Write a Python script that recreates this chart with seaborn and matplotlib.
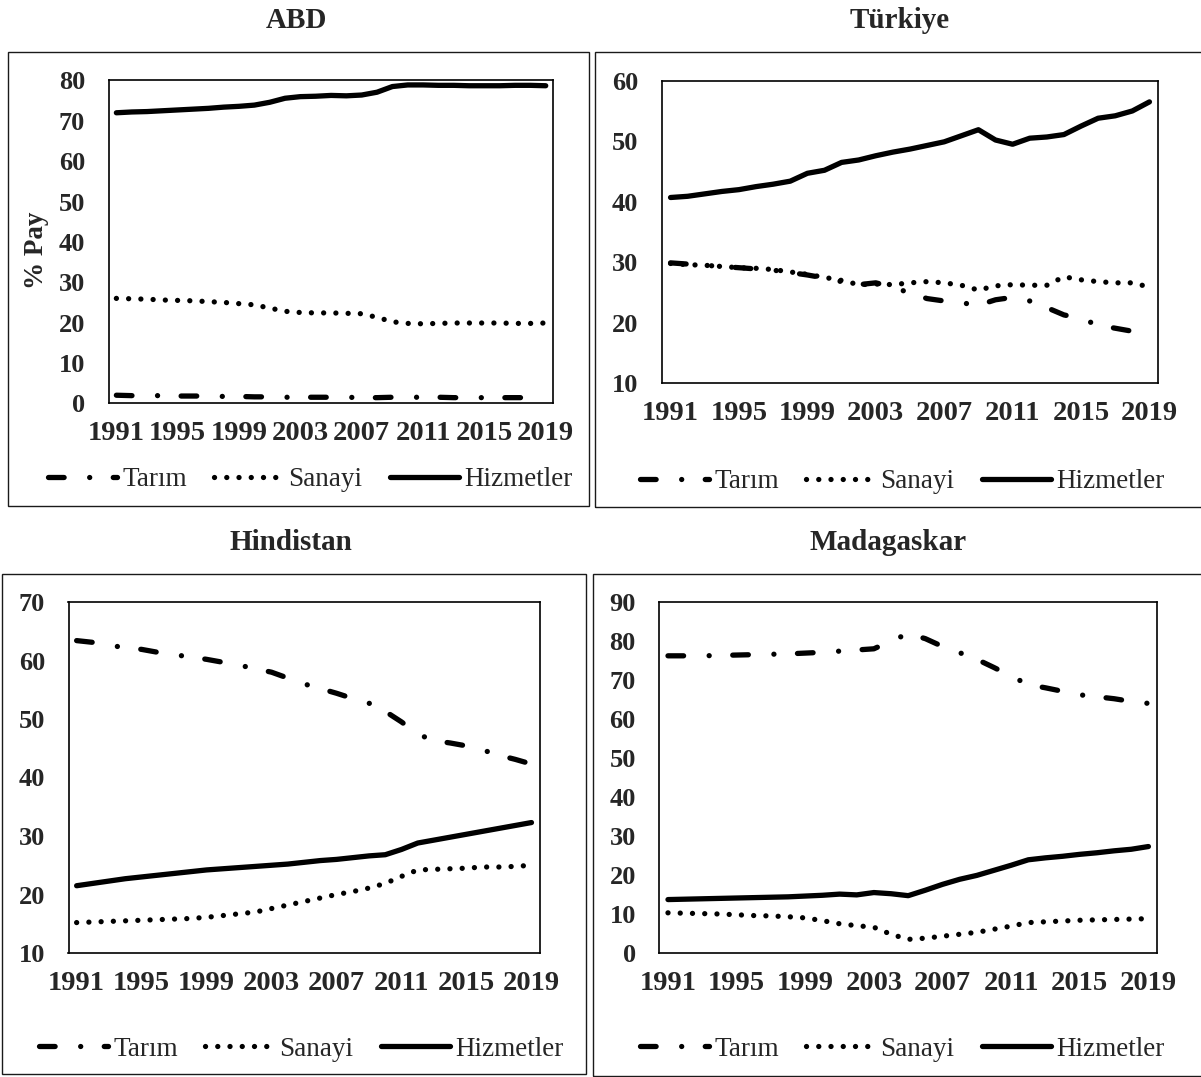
import matplotlib
matplotlib.use("Agg")
import matplotlib.pyplot as plt
import seaborn as sns

YEARS = list(range(1991, 2020))
SECTORS = ["Tarım", "Sanayi", "Hizmetler"]

ABD_TARIM = [2.0, 1.9, 1.9, 1.9, 1.8, 1.8, 1.8, 1.7, 1.7, 1.6, 1.6, 1.5, 1.5, 1.5, 1.5,
             1.5, 1.4, 1.4, 1.5, 1.5, 1.5, 1.5, 1.4, 1.4, 1.4, 1.4, 1.4, 1.4, 1.4]
ABD_SANAYI = [26.0, 25.9, 25.8, 25.6, 25.5, 25.4, 25.2, 25.0, 24.7, 24.4, 23.6, 22.8, 22.5, 22.4, 22.4,
              22.3, 22.2, 21.3, 20.2, 19.8, 19.7, 19.8, 19.9, 19.9, 19.9, 19.9, 19.8, 19.8, 19.9]
ABD_HIZMET = [72.0, 72.2, 72.3, 72.5, 72.7, 72.9, 73.1, 73.4, 73.6, 73.9, 74.6, 75.6, 76.0, 76.1, 76.3,
              76.2, 76.4, 77.1, 78.5, 78.9, 78.9, 78.8, 78.8, 78.7, 78.7, 78.7, 78.8, 78.8, 78.7]

TR_TARIM = [29.9, 29.7, 29.5, 29.3, 29.1, 28.9, 28.7, 28.3, 27.9, 27.4, 26.8, 26.3, 26.6, 25.9, 24.9,
            24.0, 23.6, 23.3, 22.9, 23.8, 24.2, 23.6, 22.5, 21.3, 20.7, 19.6, 19.1, 18.6, 18.2]
TR_SANAYI = [29.8, 29.6, 29.5, 29.3, 29.1, 29.0, 28.8, 28.4, 28.0, 27.5, 27.0, 26.3, 26.4, 26.3, 26.6,
             26.8, 26.6, 26.2, 25.4, 26.1, 26.3, 26.2, 26.2, 27.6, 27.1, 26.8, 26.6, 26.6, 25.9]
TR_HIZMET = [40.7, 40.9, 41.3, 41.7, 42.0, 42.5, 42.9, 43.4, 44.7, 45.2, 46.5, 46.9, 47.6, 48.2, 48.7,
             49.3, 49.9, 50.9, 51.9, 50.2, 49.5, 50.5, 50.7, 51.1, 52.5, 53.8, 54.2, 55.0, 56.5]

IN_TARIM = [63.4, 63.1, 62.6, 62.2, 61.9, 61.4, 61.0, 60.6, 60.2, 59.7, 59.2, 58.6, 58.0, 57.0, 56.0,
            55.2, 54.4, 53.5, 52.7, 51.3, 49.5, 47.4, 46.3, 45.9, 45.4, 44.7, 43.8, 43.1, 42.3]
IN_SANAYI = [15.2, 15.3, 15.4, 15.5, 15.6, 15.7, 15.8, 15.9, 16.1, 16.4, 16.7, 17.0, 17.6, 18.2, 18.8,
             19.4, 20.0, 20.5, 21.1, 21.9, 23.1, 24.2, 24.3, 24.4, 24.5, 24.7, 24.7, 24.8, 25.0]
IN_HIZMET = [21.5, 21.9, 22.3, 22.7, 23.0, 23.3, 23.6, 23.9, 24.2, 24.4, 24.6, 24.8, 25.0, 25.2, 25.5,
             25.8, 26.0, 26.3, 26.6, 26.8, 27.7, 28.8, 29.3, 29.8, 30.3, 30.8, 31.3, 31.8, 32.3]

MG_TARIM = [76.2, 76.2, 76.2, 76.3, 76.4, 76.5, 76.6, 76.7, 76.9, 77.1, 77.4, 77.7, 78.0, 80.0, 81.9,
            80.6, 78.6, 77.0, 75.3, 73.2, 71.0, 68.8, 68.0, 67.1, 66.2, 65.7, 65.2, 64.5, 64.0]
MG_SANAYI = [10.3, 10.2, 10.1, 10.0, 9.8, 9.6, 9.5, 9.3, 9.0, 8.3, 7.5, 7.0, 6.6, 4.8, 3.5,
             3.8, 4.3, 4.8, 5.3, 6.1, 6.9, 7.8, 8.0, 8.2, 8.4, 8.5, 8.6, 8.7, 8.8]
MG_HIZMET = [13.7, 13.8, 13.9, 14.0, 14.1, 14.2, 14.3, 14.4, 14.6, 14.8, 15.1, 14.9, 15.5, 15.2, 14.7,
             16.1, 17.6, 18.9, 19.9, 21.2, 22.5, 23.9, 24.4, 24.8, 25.3, 25.7, 26.2, 26.6, 27.3]

XTICKS = [1991, 1995, 1999, 2003, 2007, 2011, 2015, 2019]

LW = 3.8
# dash patterns in units of line width
STYLES = {
    "Tarım": (0, (2.96, 4.84, 0.01, 4.46)),
    "Sanayi": (0, (0.01, 2.31)),
    "Hizmetler": "-",
}

sns.set_style("white")
plt.rcParams["font.family"] = ["Liberation Serif", "DejaVu Serif"]

W, H = 1201, 1077
fig = plt.figure(figsize=(W / 100, H / 100), dpi=100)


def fx(px):
    return px / W


def fy(py):
    return 1 - py / H


def panel(title, series, ylim, axbox, framebox, title_xy, legend_xy, ylabel=None):
    left, top, right, bottom = axbox
    ax = fig.add_axes([fx(left), fy(bottom), fx(right - left), (bottom - top) / H])

    for name, vals in zip(SECTORS, series):
        sns.lineplot(
            x=YEARS, y=vals, ax=ax, color="black", linewidth=LW,
            linestyle=STYLES[name], label=name,
            dash_capstyle="round", solid_capstyle="round", solid_joinstyle="round",
        )

    ax.set_xlim(1990.5, 2019.5)
    ax.set_ylim(*ylim)
    ax.set_xticks(XTICKS)
    ax.set_yticks(range(ylim[0], ylim[1] + 1, 10))
    ax.tick_params(axis="x", length=0, pad=13, labelsize=20.5)
    ax.tick_params(axis="y", length=0, pad=17, labelsize=19)
    for lab in ax.get_xticklabels() + ax.get_yticklabels():
        lab.set_fontweight("bold")
    for sp in ax.spines.values():
        sp.set_color("black")
        sp.set_linewidth(1.2)
    ax.set_xlabel("")
    if ylabel:
        ax.set_ylabel(ylabel, fontsize=19.5, fontweight="bold")
        ax.yaxis.set_label_coords(-0.135, 0.475)
    else:
        ax.set_ylabel("")

    handles, labels = ax.get_legend_handles_labels()
    ax.legend(
        handles, labels, loc="center", ncol=3, frameon=False,
        bbox_to_anchor=(fx(legend_xy[0]), fy(legend_xy[1])),
        bbox_transform=fig.transFigure, fontsize=19.5,
        handlelength=2.55, handletextpad=0.2, columnspacing=1.0,
    )

    fl, ft, fr, fb = framebox
    fig.add_artist(plt.Rectangle(
        (fx(fl), fy(fb)), fx(fr - fl), (fb - ft) / H,
        transform=fig.transFigure, fill=False, edgecolor="#1a1a1a", linewidth=1.0,
    ))
    fig.text(fx(title_xy[0]), fy(title_xy[1]), title, ha="center", va="center",
             fontsize=21, fontweight="bold")
    return ax


panel("ABD", [ABD_TARIM, ABD_SANAYI, ABD_HIZMET], (0, 80),
      (108.7, 80.5, 553.4, 403.3), (8.4, 51.7, 589, 505.7),
      (296.6, 20), (310, 480), ylabel="% Pay")
panel("Türkiye", [TR_TARIM, TR_SANAYI, TR_HIZMET], (10, 60),
      (662, 80.7, 1158, 383.3), (595, 51.7, 1210, 507),
      (899.8, 20), (902, 481.7))
panel("Hindistan", [IN_TARIM, IN_SANAYI, IN_HIZMET], (10, 70),
      (68.5, 602, 539.6, 953), (2, 573.5, 586, 1074),
      (290.8, 542), (301, 1049))
panel("Madagaskar", [MG_TARIM, MG_SANAYI, MG_HIZMET], (0, 90),
      (659.4, 602, 1157, 953), (593, 573.5, 1210, 1076),
      (888, 542), (902, 1049))

fig.savefig("out.png", dpi=100)
